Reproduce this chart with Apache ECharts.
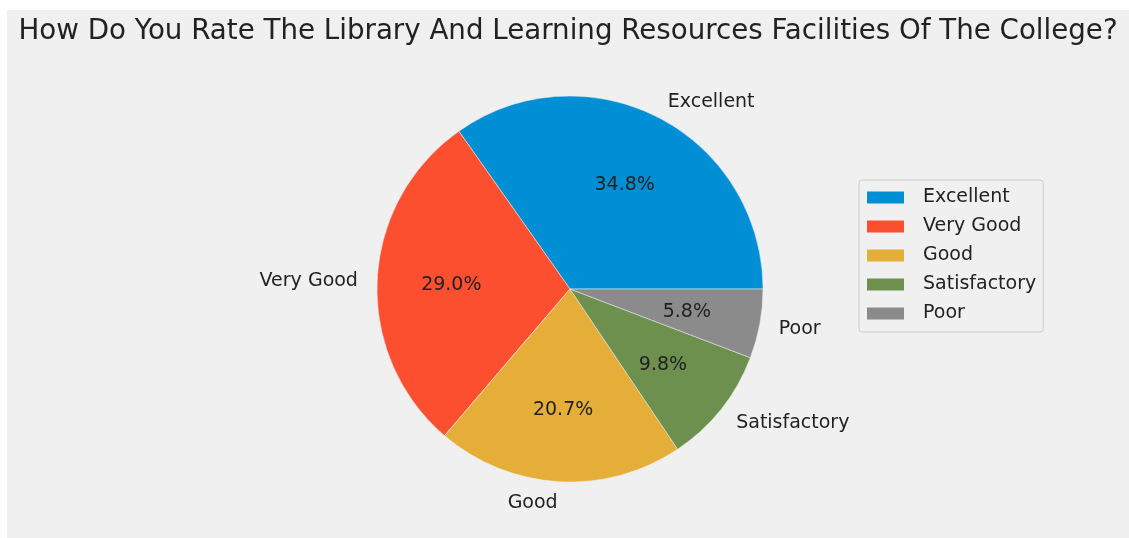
<!DOCTYPE html>
<html>
<head>
<meta charset="utf-8">
<script src="https://cdn.jsdelivr.net/npm/echarts@6/dist/echarts.min.js"></script>
<style>
  html, body { margin: 0; padding: 0; background: #ffffff; }
  #c { position: absolute; left: 7px; top: 10px; width: 1122px; height: 528px; background: #f0f0f0; }
</style>
</head>
<body>
<div id="c"></div>
<script>
// Data
const titleText = 'How Do You Rate The Library And Learning Resources Facilities Of The College?';
const categories = ['Excellent', 'Very Good', 'Good', 'Satisfactory', 'Poor'];
const values = [34.8, 29.0, 20.7, 9.8, 5.8];
const colors = ['#008fd5', '#fc4f30', '#e5ae38', '#6d904f', '#8b8b8b'];

const total = values.reduce((a, b) => a + b, 0);
const R = 193;
const center = [563, 279];
const font = 'DejaVu Sans';

const chart = echarts.init(document.getElementById('c'), null, { renderer: 'canvas' });
const pieData = categories.map((n, i) => ({ name: n, value: values[i], itemStyle: { color: colors[i] } }));
const richStyle = { t: { fontFamily: font, fontSize: 19, color: '#222222', padding: [4, 0, 0, 0] } };

chart.setOption({
  backgroundColor: '#f0f0f0',
  animation: false,
  title: {
    text: titleText,
    left: 'center',
    top: 8,
    padding: 0,
    textStyle: { fontFamily: font, fontSize: 27.7, fontWeight: 'normal', color: '#222222', lineHeight: 28 }
  },
  legend: {
    orient: 'vertical',
    left: 852,
    top: 170,
    data: categories,
    icon: 'rect',
    itemWidth: 39,
    itemHeight: 14,
    itemGap: 10,
    padding: [8, 7, 9, 6],
    backgroundColor: '#f0f0f0',
    borderColor: '#cccccc',
    borderWidth: 1,
    borderRadius: 3,
    selectedMode: false,
    textStyle: { fontFamily: font, fontSize: 19, color: '#222222', lineHeight: 19, padding: [0, 0, 0, 13] }
  },
  series: [
    {
      type: 'pie',
      center: center,
      radius: [0, R],
      startAngle: 0,
      clockwise: false,
      avoidLabelOverlap: false,
      silent: true,
      itemStyle: { borderColor: '#f0f0f0', borderWidth: 0.5 },
      label: {
        show: true,
        position: 'outside',
        distanceToLabelLine: 0,
        fontFamily: font,
        fontSize: 19,
        color: '#222222',
        formatter: '{t|{b}}',
        rich: richStyle
      },
      labelLine: { show: false, length: R * 0.1, length2: 0 },
      data: pieData
    },
    {
      type: 'pie',
      center: center,
      radius: [R * 0.2, R],
      startAngle: 0,
      clockwise: false,
      avoidLabelOverlap: false,
      silent: true,
      itemStyle: { color: 'rgba(0,0,0,0)', borderWidth: 0 },
      label: {
        show: true,
        position: 'inside',
        fontFamily: font,
        fontSize: 19,
        color: '#222222',
        formatter: p => '{t|' + (p.value / total * 100).toFixed(1) + '%}',
        rich: richStyle
      },
      labelLine: { show: false },
      data: categories.map((n, i) => ({ name: n, value: values[i] }))
    }
  ]
});
</script>
</body>
</html>
